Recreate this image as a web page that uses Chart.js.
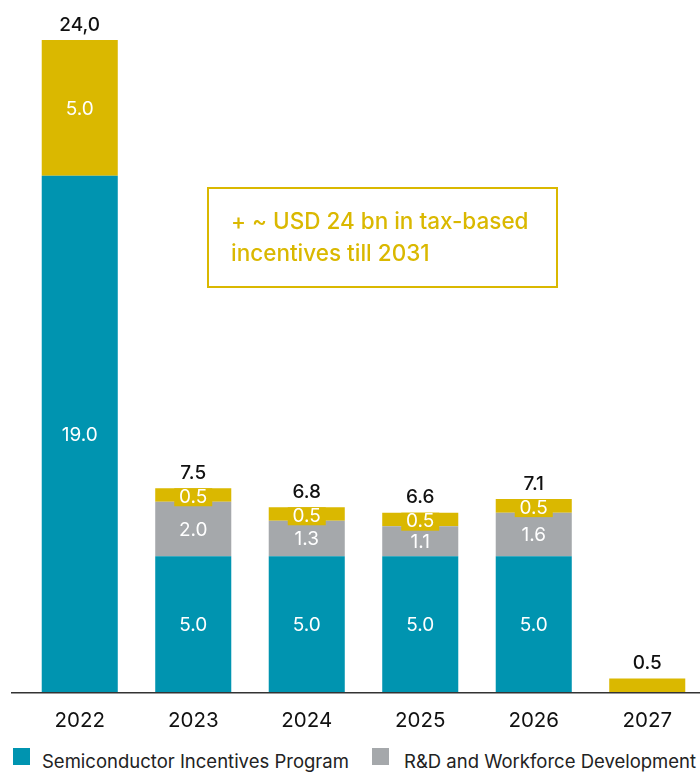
<!DOCTYPE html>
<html>
<head>
<meta charset="utf-8">
<script src="https://cdn.jsdelivr.net/npm/chart.js@4.4.0/dist/chart.umd.min.js"></script>
<style>
  html, body { margin: 0; padding: 0; background: #fff; overflow: hidden; }
  #wrap { position: relative; width: 700px; height: 774px; overflow: hidden; }
  #chartBox { position: absolute; left: 0; top: 0; width: 704px; height: 740px; }
  .legend { position: absolute; top: 748px; font-family: Inter, "Open Sans", sans-serif; font-size: 18.5px; color: #222; white-space: nowrap; }
  .legend span.sw { position: absolute; top: 0; width: 17px; height: 17px; }
  .legend span.tx { position: absolute; top: 2px; }
</style>
</head>
<body>
<div id="wrap">
  <div id="chartBox"><canvas id="chipChart" width="704" height="740"></canvas></div>
  <div class="legend" style="left:13px"><span class="sw" style="left:0;background:#0094B0"></span><span class="tx" style="left:29px">Semiconductor Incentives Program</span></div>
  <div class="legend" style="left:372px"><span class="sw" style="left:0;background:#A5A8AB"></span><span class="tx" style="left:32px">R&amp;D and Workforce Development</span></div>
</div>
<script>
const years = ['2022', '2023', '2024', '2025', '2026', '2027'];
const incentives = [19.0, 5.0, 5.0, 5.0, 5.0, 0];
const workforce = [0, 2.0, 1.3, 1.1, 1.6, 0];
const other = [5.0, 0.5, 0.5, 0.5, 0.5, 0.5];
const totalLabels = ['24,0', '7.5', '6.8', '6.6', '7.1', '0.5'];

const TEAL = '#0094B0';
const GRAY = '#A5A8AB';
const YELLOW = '#DAB800';
const FONT = 'Inter, "Open Sans", sans-serif';

// value labels, totals, axis line and the note box
const labelPlugin = {
    id: 'labelPlugin',
    afterDatasetsDraw(chart) {
        const ctx = chart.ctx;
        ctx.save();
        ctx.textAlign = 'center';
        ctx.textBaseline = 'middle';

        chart.data.datasets.forEach(function(ds, di) {
            const meta = chart.getDatasetMeta(di);
            meta.data.forEach(function(bar, i) {
                const v = ds.data[i];
                if (!v) return;
                const top = bar.y, bottom = bar.base;
                if (di === 2) {
                    if (i === 5) return;
                    if (v < 1) {
                        // small yellow segment: label sits on a yellow tab
                        ctx.fillStyle = YELLOW;
                        ctx.fillRect(bar.x - 19, top, 38, 18);
                        ctx.fillStyle = '#fff';
                        ctx.font = '400 19px ' + FONT;
                        ctx.fillText(v.toFixed(1), bar.x, top + 9);
                        return;
                    }
                }
                ctx.fillStyle = '#fff';
                ctx.font = '400 19px ' + FONT;
                ctx.fillText(v.toFixed(1), bar.x, (top + bottom) / 2 + 1);
            });
        });

        // totals above each bar
        const lastMeta = chart.getDatasetMeta(2);
        lastMeta.data.forEach(function(bar, i) {
            ctx.fillStyle = '#111';
            ctx.font = '500 19px ' + FONT;
            ctx.fillText(totalLabels[i], bar.x, bar.y - 15);
        });

        // baseline
        const y0 = chart.scales.y.getPixelForValue(0);
        ctx.strokeStyle = '#333';
        ctx.lineWidth = 1.5;
        ctx.beginPath();
        ctx.moveTo(11, y0 + 0.75);
        ctx.lineTo(chart.width, y0 + 0.75);
        ctx.stroke();

        // note box
        ctx.strokeStyle = YELLOW;
        ctx.lineWidth = 2;
        ctx.strokeRect(208, 188, 349, 99);
        ctx.fillStyle = YELLOW;
        ctx.font = '500 22.5px ' + FONT;
        ctx.textAlign = 'left';
        ctx.fillText('+ ~ USD 24 bn in tax-based', 231, 222);
        ctx.fillText('incentives till 2031', 231, 254);
        ctx.restore();
    }
};

new Chart(document.getElementById('chipChart'), {
    type: 'bar',
    data: {
        labels: years,
        datasets: [
            { label: 'Semiconductor Incentives Program', data: incentives, backgroundColor: TEAL },
            { label: 'R&D and Workforce Development', data: workforce, backgroundColor: GRAY },
            { label: 'Other', data: other, backgroundColor: YELLOW }
        ]
    },
    options: {
        responsive: false,
        animation: false,
        barPercentage: 0.67,
        categoryPercentage: 1,
        layout: { padding: { left: 23, right: 0, top: 40, bottom: 0 } },
        plugins: {
            legend: { display: false },
            tooltip: { enabled: false }
        },
        scales: {
            x: {
                stacked: true,
                grid: { display: false },
                border: { display: false },
                ticks: { color: '#111', font: { family: FONT, size: 20.5 }, padding: 9 },
                afterFit: function(scale) { scale.height = 48; }
            },
            y: {
                stacked: true,
                display: false,
                min: 0,
                max: 24
            }
        }
    },
    plugins: [labelPlugin]
});
</script>
</body>
</html>
